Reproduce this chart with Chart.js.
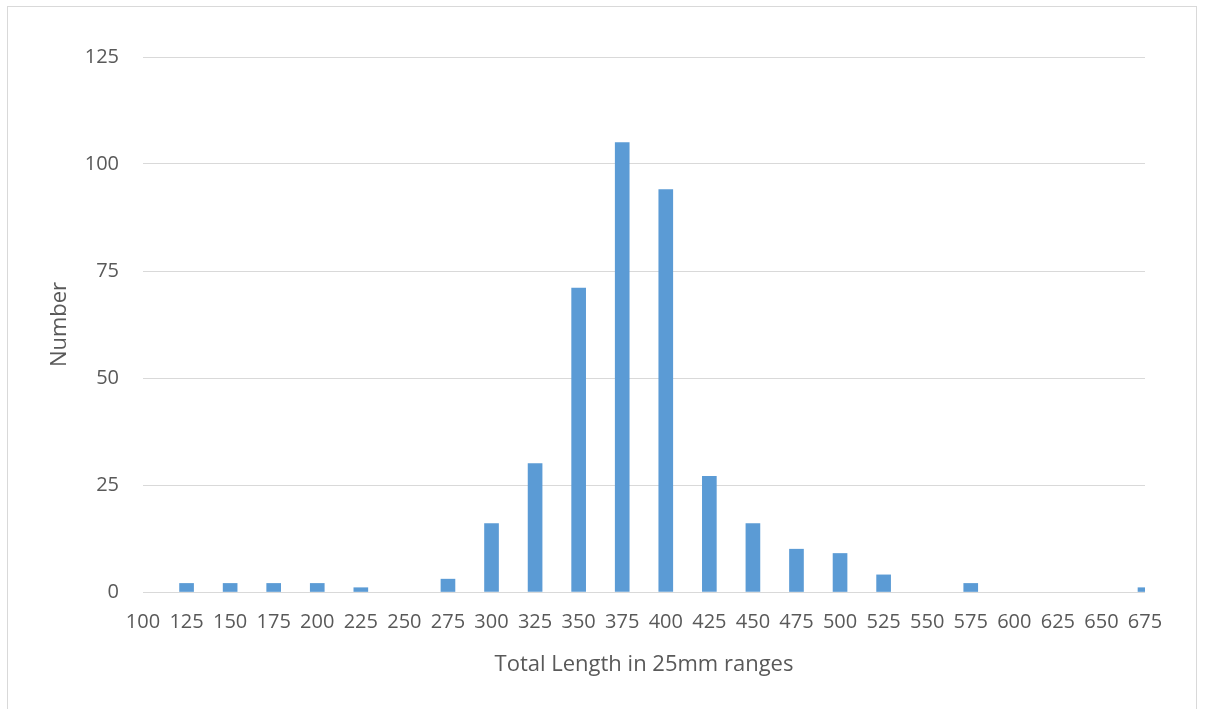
<!DOCTYPE html>
<html>
<head>
<meta charset="utf-8">
<script src="https://cdn.jsdelivr.net/npm/chart.js@4/dist/chart.umd.min.js"></script>
<style>
  html, body { margin: 0; padding: 0; background: #fff; }
  #wrap { position: relative; width: 1205px; height: 709px; }
  #frame { position: absolute; left: 7px; top: 6px; width: 1190px; height: 710px; border: 1px solid #d9d9d9; box-sizing: border-box; }
  canvas { position: absolute; left: 0; top: 0; }
</style>
</head>
<body>
<div id="wrap">
  <div id="frame"></div>
  <canvas id="histChart" width="1205" height="709"></canvas>
</div>
<script>
// Length ranges (mm) and counts
const lengths = [100, 125, 150, 175, 200, 225, 250, 275, 300, 325, 350, 375,
                 400, 425, 450, 475, 500, 525, 550, 575, 600, 625, 650, 675];
const counts  = [0, 2, 2, 2, 2, 1, 0, 3, 16, 30, 71, 105,
                 94, 27, 16, 10, 9, 4, 0, 2, 0, 0, 0, 1];
const yTicks = [0, 25, 50, 75, 100, 125];

const textColor = '#595959';
const gridColor = '#d9d9d9';
const fontFamily = '"Open Sans", "Liberation Sans", sans-serif';
const fontSize = 20;
const titleSize = 22;

document.addEventListener('DOMContentLoaded', function() {
  const ctx = document.getElementById('histChart').getContext('2d');
  // empty ranges get no bar at all
  const points = lengths.map((x, i) => ({ x: x, y: counts[i] === 0 ? null : counts[i] }));

  new Chart(ctx, {
    type: 'bar',
    data: {
      datasets: [{
        label: 'Number',
        data: points,
        backgroundColor: '#5b9bd5',
        borderWidth: 0,
        barThickness: 14
      }]
    },
    options: {
      responsive: false,
      animation: false,
      layout: { padding: { top: 57, right: 60, left: 47, bottom: 31 } },
      plugins: {
        legend: { display: false },
        tooltip: { enabled: false }
      },
      scales: {
        x: {
          type: 'linear',
          min: lengths[0],
          max: lengths[lengths.length - 1],
          offset: false,
          grid: { display: false, drawTicks: false },
          border: { display: false },
          afterBuildTicks: function(scale) {
            scale.ticks = lengths.map(v => ({ value: v }));
          },
          afterFit: function(scale) { scale.height = 86; },
          ticks: {
            autoSkip: false,
            maxRotation: 0,
            padding: 18,
            color: textColor,
            font: { family: fontFamily, size: fontSize }
          },
          title: {
            display: true,
            text: 'Total Length in 25mm ranges',
            color: textColor,
            font: { family: fontFamily, size: titleSize },
            padding: 0
          }
        },
        y: {
          min: 0,
          max: 125,
          afterBuildTicks: function(scale) {
            scale.ticks = yTicks.map(v => ({ value: v }));
          },
          afterFit: function(scale) { scale.width = 96; },
          grid: { color: gridColor, lineWidth: 1, drawTicks: false },
          border: { display: false },
          ticks: {
            padding: 24,
            color: textColor,
            font: { family: fontFamily, size: fontSize }
          },
          title: {
            display: true,
            text: 'Number',
            color: textColor,
            font: { family: fontFamily, size: titleSize },
            padding: 0
          }
        }
      }
    }
  });
});
</script>
</body>
</html>
